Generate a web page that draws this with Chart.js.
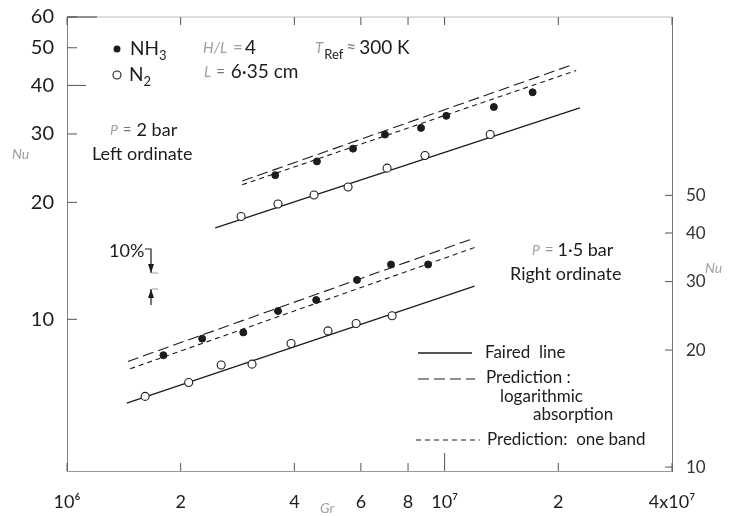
<!DOCTYPE html>
<html>
<head>
<meta charset="utf-8">
<script src="https://cdn.jsdelivr.net/npm/chart.js@4.4.0/dist/chart.umd.min.js"></script>
<style>
    html, body { margin: 0; padding: 0; background: #fff; }
    #wrap { width: 737px; height: 516px; }
</style>
</head>
<body>
<div id="wrap"><canvas id="chart" width="737" height="516"></canvas></div>
<script>
// Nu vs Gr, log-log. Upper group: p = 2 bar (left ordinate), lower group: p = 1.5 bar (right ordinate)

// upper group, left ordinate
const grUpperNH3 = [3.56e6, 4.59e6, 5.72e6, 6.95e6, 8.66e6, 1.01e7, 1.35e7, 1.71e7]
const nuUpperNH3 = [23.5, 25.5, 27.5, 29.9, 31.1, 33.4, 35.2, 38.4]
const grUpperN2 = [2.89e6, 3.62e6, 4.51e6, 5.55e6, 7.04e6, 8.87e6, 1.32e7]
const nuUpperN2 = [18.4, 19.8, 20.9, 21.9, 24.5, 26.4, 29.9]
const grUpperFaired = [2.47e6, 2.28e7]
const nuUpperFaired = [17.2, 35.0]
const grUpperLog = [2.91e6, 2.19e7]
const nuUpperLog = [22.7, 45.3]
const grUpperBand = [2.91e6, 2.23e7]
const nuUpperBand = [22.2, 43.7]

// lower group, right ordinate
const grLowerNH3 = [1.80e6, 2.28e6, 2.93e6, 3.62e6, 4.57e6, 5.86e6, 7.21e6, 9.04e6]
const nuLowerNH3 = [19.4, 21.4, 22.2, 25.2, 26.9, 30.3, 33.2, 33.2]
const grLowerN2 = [1.61e6, 2.10e6, 2.56e6, 3.09e6, 3.92e6, 4.91e6, 5.83e6, 7.26e6]
const nuLowerN2 = [15.2, 16.5, 18.3, 18.4, 20.8, 22.4, 23.4, 24.5]
const grLowerFaired = [1.44e6, 1.20e7]
const nuLowerFaired = [14.6, 29.2]
const grLowerLog = [1.45e6, 1.17e7]
const nuLowerLog = [18.7, 38.5]
const grLowerBand = [1.47e6, 1.20e7]
const nuLowerBand = [17.9, 36.7]

// ticks
const xTicks = [1e6, 2e6, 4e6, 6e6, 8e6, 1e7, 2e7, 4e7]
const xTickLabels = ["10\u2076", "2", "4", "6", "8", "10\u2077", "2", "4x10\u2077"]
const yLeftTicks = [10, 20, 30, 40, 50, 60]
const yRightTicks = [10, 20, 30, 40, 50]

const FONT = "Lato, 'DejaVu Sans', sans-serif"
const INK = "#1c1c1c"
const FAINT = "#a0a0a0"

const pts = (xs, ys) => xs.map((x, i) => ({ x: x, y: ys[i] }))

function markers(xs, ys, axis, open) {
    return {
        data: pts(xs, ys),
        yAxisID: axis,
        showLine: false,
        order: 0,
        pointRadius: open ? 4 : 3.5,
        pointBackgroundColor: open ? "#fff" : INK,
        pointBorderColor: INK,
        pointBorderWidth: open ? 1.1 : 1,
    }
}

function line(xs, ys, axis, dash) {
    return {
        data: pts(xs, ys),
        yAxisID: axis,
        order: 1,
        borderColor: INK,
        borderWidth: dash.length ? 1.1 : 1.3,
        borderDash: dash,
        pointRadius: 0,
        fill: false,
    }
}

const LONG_DASH = [11, 5]
const SHORT_DASH = [5, 4]

// inward tick marks and the top frame line
const frameTicks = {
    id: "frameTicks",
    afterDraw(chart) {
        const ctx = chart.ctx
        const a = chart.chartArea
        const sx = chart.scales.x
        const yl = chart.scales.yL
        const yr = chart.scales.yR
        ctx.save()
        ctx.lineWidth = 1
        ctx.strokeStyle = "#bbb"
        ctx.beginPath()
        ctx.moveTo(a.left, a.top)
        ctx.lineTo(a.right, a.top)
        ctx.stroke()
        ctx.strokeStyle = "#444"
        ctx.beginPath()
        ctx.moveTo(a.left, a.top)
        ctx.lineTo(a.left + 30, a.top)
        ctx.stroke()

        ctx.strokeStyle = "#555"
        xTicks.forEach((v) => {
            const px = sx.getPixelForValue(v)
            const len = v === 1e7 ? 18 : 8
            ctx.beginPath()
            ctx.moveTo(px, a.bottom)
            ctx.lineTo(px, a.bottom - len)
            ctx.moveTo(px, a.top)
            ctx.lineTo(px, a.top + 8)
            ctx.stroke()
        })
        yLeftTicks.forEach((v) => {
            const py = yl.getPixelForValue(v)
            const len = v === 40 ? 19 : 10
            ctx.beginPath()
            ctx.moveTo(a.left, py)
            ctx.lineTo(a.left + len, py)
            ctx.stroke()
        })
        yRightTicks.forEach((v) => {
            const py = yr.getPixelForValue(v)
            ctx.beginPath()
            ctx.moveTo(a.right, py)
            ctx.lineTo(a.right - 7, py)
            ctx.stroke()
        })
        ctx.restore()
    },
}

function drawParts(ctx, parts, x, y) {
    let cx = x
    parts.forEach((p) => {
        ctx.font = (p.italic ? "italic " : "") + (p.size || 17) + "px " + FONT
        ctx.fillStyle = p.color || INK
        ctx.fillText(p.t, cx, y + (p.dy || 0))
        cx += ctx.measureText(p.t).width + (p.gap || 0)
    })
}

function legendLine(ctx, x1, x2, y, dash) {
    ctx.setLineDash(dash)
    ctx.beginPath()
    ctx.moveTo(x1, y)
    ctx.lineTo(x2, y)
    ctx.stroke()
    ctx.setLineDash([])
}

// texts, key and the 10 % bar
const notes = {
    id: "notes",
    afterDraw(chart) {
        const ctx = chart.ctx
        ctx.save()
        ctx.textBaseline = "middle"
        ctx.textAlign = "left"
        ctx.strokeStyle = INK
        ctx.fillStyle = INK

        // symbols key
        ctx.beginPath()
        ctx.arc(117, 49, 3.5, 0, Math.PI * 2)
        ctx.fill()
        ctx.lineWidth = 1.1
        ctx.beginPath()
        ctx.arc(117, 75, 4, 0, Math.PI * 2)
        ctx.stroke()
        drawParts(ctx, [{ t: "NH", size: 19 }, { t: "3", size: 13, dy: 7 }], 130, 49)
        drawParts(ctx, [{ t: "N", size: 19 }, { t: "2", size: 13, dy: 7 }], 129, 75)

        drawParts(ctx, [{ t: "H/L", size: 15, italic: true, color: FAINT, gap: 6 }, { t: "=", size: 17, color: FAINT, gap: 2 }, { t: "4", size: 19 }], 203, 48)
        drawParts(ctx, [{ t: "T", size: 15, italic: true, color: FAINT, gap: 1 }, { t: "Ref", size: 13, dy: 7, gap: 3 }, { t: "\u2248", size: 17, color: "#777", gap: 3 }, { t: "300 K", size: 19 }], 315, 48)
        drawParts(ctx, [{ t: "L", size: 15, italic: true, color: FAINT, gap: 5 }, { t: "=", size: 15, color: "#777", gap: 6 }, { t: "6\u00b735 cm", size: 19 }], 204, 72)

        drawParts(ctx, [{ t: "P", size: 14, italic: true, color: FAINT, gap: 5 }, { t: "=", size: 15, color: "#777", gap: 5 }, { t: "2 bar", size: 18 }], 110, 130)
        drawParts(ctx, [{ t: "Left ordinate", size: 18 }], 92, 154)
        drawParts(ctx, [{ t: "Nu", size: 14, italic: true, color: FAINT }], 12, 154)

        drawParts(ctx, [{ t: "P", size: 14, italic: true, color: FAINT, gap: 5 }, { t: "=", size: 15, color: "#999", gap: 4 }, { t: "1\u00b75 bar", size: 18 }], 532, 250)
        drawParts(ctx, [{ t: "Right ordinate", size: 18 }], 510, 274)
        drawParts(ctx, [{ t: "Nu", size: 14, italic: true, color: FAINT }], 705, 268)
        drawParts(ctx, [{ t: "Gr", size: 14, italic: true, color: FAINT }], 320, 508)

        // 10 % bar
        drawParts(ctx, [{ t: "10%", size: 18 }], 109, 251)
        ctx.lineWidth = 1.2
        ctx.beginPath()
        ctx.moveTo(145, 249)
        ctx.lineTo(151, 249)
        ctx.lineTo(151, 273)
        ctx.moveTo(151, 305)
        ctx.lineTo(151, 289)
        ctx.stroke()
        ctx.beginPath()
        ctx.moveTo(148, 264)
        ctx.lineTo(154, 264)
        ctx.lineTo(151, 273)
        ctx.closePath()
        ctx.moveTo(148, 298)
        ctx.lineTo(154, 298)
        ctx.lineTo(151, 289)
        ctx.closePath()
        ctx.fill()
        ctx.strokeStyle = FAINT
        ctx.lineWidth = 1
        ctx.beginPath()
        ctx.moveTo(152, 273)
        ctx.lineTo(158, 273)
        ctx.moveTo(152, 289)
        ctx.lineTo(158, 289)
        ctx.stroke()

        // line key
        ctx.strokeStyle = INK
        ctx.lineWidth = 1.3
        legendLine(ctx, 418, 472, 353, [])
        ctx.lineWidth = 1.1
        legendLine(ctx, 418, 475, 379, LONG_DASH)
        legendLine(ctx, 416, 480, 440, SHORT_DASH)
        drawParts(ctx, [{ t: "Faired  line", size: 17 }], 485, 353)
        drawParts(ctx, [{ t: "Prediction :", size: 17 }], 486, 378)
        drawParts(ctx, [{ t: "logarithmic", size: 17 }], 500, 397)
        drawParts(ctx, [{ t: "absorption", size: 17 }], 533, 415)
        drawParts(ctx, [{ t: "Prediction:  one band", size: 17 }], 487, 440)
        ctx.restore()
    },
}

new Chart(document.getElementById("chart"), {
    type: "line",
    data: {
        datasets: [
            markers(grUpperNH3, nuUpperNH3, "yL", false),
            markers(grUpperN2, nuUpperN2, "yL", true),
            line(grUpperFaired, nuUpperFaired, "yL", []),
            line(grUpperLog, nuUpperLog, "yL", LONG_DASH),
            line(grUpperBand, nuUpperBand, "yL", SHORT_DASH),
            markers(grLowerNH3, nuLowerNH3, "yR", false),
            markers(grLowerN2, nuLowerN2, "yR", true),
            line(grLowerFaired, nuLowerFaired, "yR", []),
            line(grLowerLog, nuLowerLog, "yR", LONG_DASH),
            line(grLowerBand, nuLowerBand, "yR", SHORT_DASH),
        ],
    },
    options: {
        responsive: false,
        animation: false,
        layout: { padding: { top: 12, left: 0, right: 0, bottom: 0 } },
        plugins: {
            legend: { display: false },
            tooltip: { enabled: false },
        },
        scales: {
            x: {
                type: "logarithmic",
                position: "bottom",
                min: 1e6,
                max: 4e7,
                afterBuildTicks: (s) => { s.ticks = xTicks.map((v) => ({ value: v })) },
                afterFit: (s) => { s.height = 45 },
                grid: { display: false },
                border: { display: true, color: "#999", width: 1, dash: [3, 2] },
                ticks: {
                    autoSkip: false,
                    maxRotation: 0,
                    padding: 12,
                    color: INK,
                    font: { family: FONT, size: 18 },
                    callback: (v, i) => xTickLabels[i],
                },
            },
            yL: {
                type: "logarithmic",
                position: "left",
                min: 4.07,
                max: 60,
                afterBuildTicks: (s) => { s.ticks = yLeftTicks.map((v) => ({ value: v })) },
                afterFit: (s) => { s.width = 67 },
                grid: { display: false },
                border: { display: true, color: "#808080", width: 1 },
                ticks: {
                    padding: 5,
                    color: INK,
                    font: { family: FONT, size: 20 },
                    callback: (v, i) => String(yLeftTicks[i]),
                },
            },
            yR: {
                type: "logarithmic",
                position: "right",
                min: 9.77,
                max: 143.8,
                afterBuildTicks: (s) => { s.ticks = yRightTicks.map((v) => ({ value: v })) },
                afterFit: (s) => { s.width = 65 },
                grid: { display: false },
                border: { display: true, color: "#777", width: 1 },
                ticks: {
                    padding: 6,
                    color: "#333",
                    font: { family: FONT, size: 17 },
                    callback: (v, i) => String(yRightTicks[i]),
                },
            },
        },
    },
    plugins: [frameTicks, notes],
})
</script>
</body>
</html>
